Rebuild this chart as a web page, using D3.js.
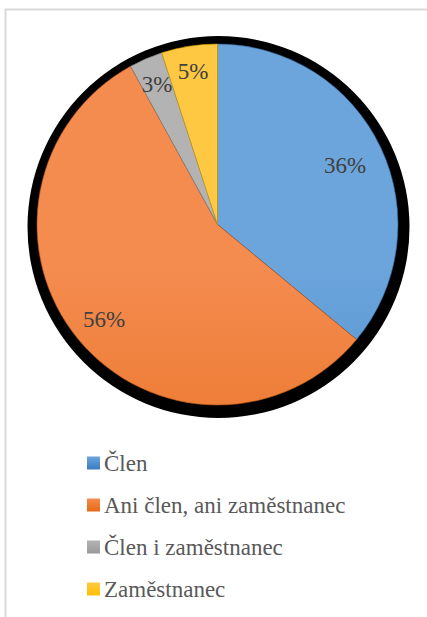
<!DOCTYPE html>
<html><head><meta charset="utf-8">
<script src="https://cdn.jsdelivr.net/npm/d3@7"></script>
<style>body{margin:0;background:#fff;}svg{display:block;}</style>
</head><body>
<script>
const categories = ["Člen", "Ani člen, ani zaměstnanec", "Člen i zaměstnanec", "Zaměstnanec"];
const values = [36, 56, 3, 5];
const labels = ["36%", "56%", "3%", "5%"];
const colorsTop = ["#6ca5dc", "#f48b4f", "#b3b3b3", "#ffc843"];
const colorsBottom = ["#3a7cc1", "#e56a14", "#9a9a9a", "#ffc000"];
const FONT = "'Liberation Serif', 'DejaVu Serif', 'Noto Serif', serif";

const W = 427, H = 617;
const svg = d3.select("body").append("svg").attr("width", W).attr("height", H);

// chart border
svg.append("path").attr("d", `M5.5,${H} L5.5,9.5 L${W},9.5`)
  .attr("fill", "none").attr("stroke", "#d9d9d9").attr("stroke-width", 2);

const cx = 217.5, cy = 224.5, r = 180.5;
const defs = svg.append("defs");
categories.forEach((c, i) => {
  const g = defs.append("linearGradient").attr("id", "g" + i)
    .attr("gradientUnits", "userSpaceOnUse")
    .attr("x1", 0).attr("y1", cy - r).attr("x2", 0).attr("y2", cy + r);
  g.append("stop").attr("offset", "0%").attr("stop-color", colorsTop[i]);
  g.append("stop").attr("offset", "100%").attr("stop-color", colorsBottom[i]);
  const lg = defs.append("linearGradient").attr("id", "lg" + i)
    .attr("x1", 0).attr("y1", 0).attr("x2", 0).attr("y2", 1);
  lg.append("stop").attr("offset", "0%").attr("stop-color", colorsTop[i]);
  lg.append("stop").attr("offset", "100%").attr("stop-color", colorsBottom[i]);
});

// shadow
svg.append("circle").attr("cx", cx + 1).attr("cy", cy + 2.5).attr("r", r + 10.5).attr("fill", "#000");

const pie = d3.pie().sort(null).value(d => d)(values);
const arc = d3.arc().innerRadius(0).outerRadius(r);
const g = svg.append("g").attr("transform", `translate(${cx},${cy})`);
g.selectAll("path").data(pie).join("path")
  .attr("d", arc)
  .attr("fill", (d, i) => `url(#g${i})`)
  .attr("stroke", (d, i) => d3.color(colorsBottom[i]).darker(0.6))
  .attr("stroke-width", 0.6);

// labels
const labelPos = [[345, 173], [104, 327], [157, 92], [193, 79]];
const lblScale = d3.scaleOrdinal().domain(categories).range(labelPos);
svg.selectAll("text.lbl").data(categories).join("text").attr("class", "lbl")
  .attr("x", d => lblScale(d)[0]).attr("y", d => lblScale(d)[1])
  .attr("text-anchor", "middle")
  .style("font-family", FONT).style("font-size", "23px")
  .attr("fill", "#404040")
  .text((d, i) => labels[i]);

// legend
const ly = d3.scalePoint().domain(categories).range([463, 589]);
const leg = svg.selectAll("g.leg").data(categories).join("g").attr("class", "leg")
  .attr("transform", d => `translate(87,${ly(d)})`);
leg.append("rect").attr("x", 0).attr("y", -6.5).attr("width", 13).attr("height", 13)
  .attr("fill", (d, i) => `url(#lg${i})`);
leg.append("text").attr("x", 17).attr("y", 7.5)
  .style("font-family", FONT).style("font-size", "23px")
  .attr("fill", "#595959")
  .text(d => d);
</script>
</body></html>
